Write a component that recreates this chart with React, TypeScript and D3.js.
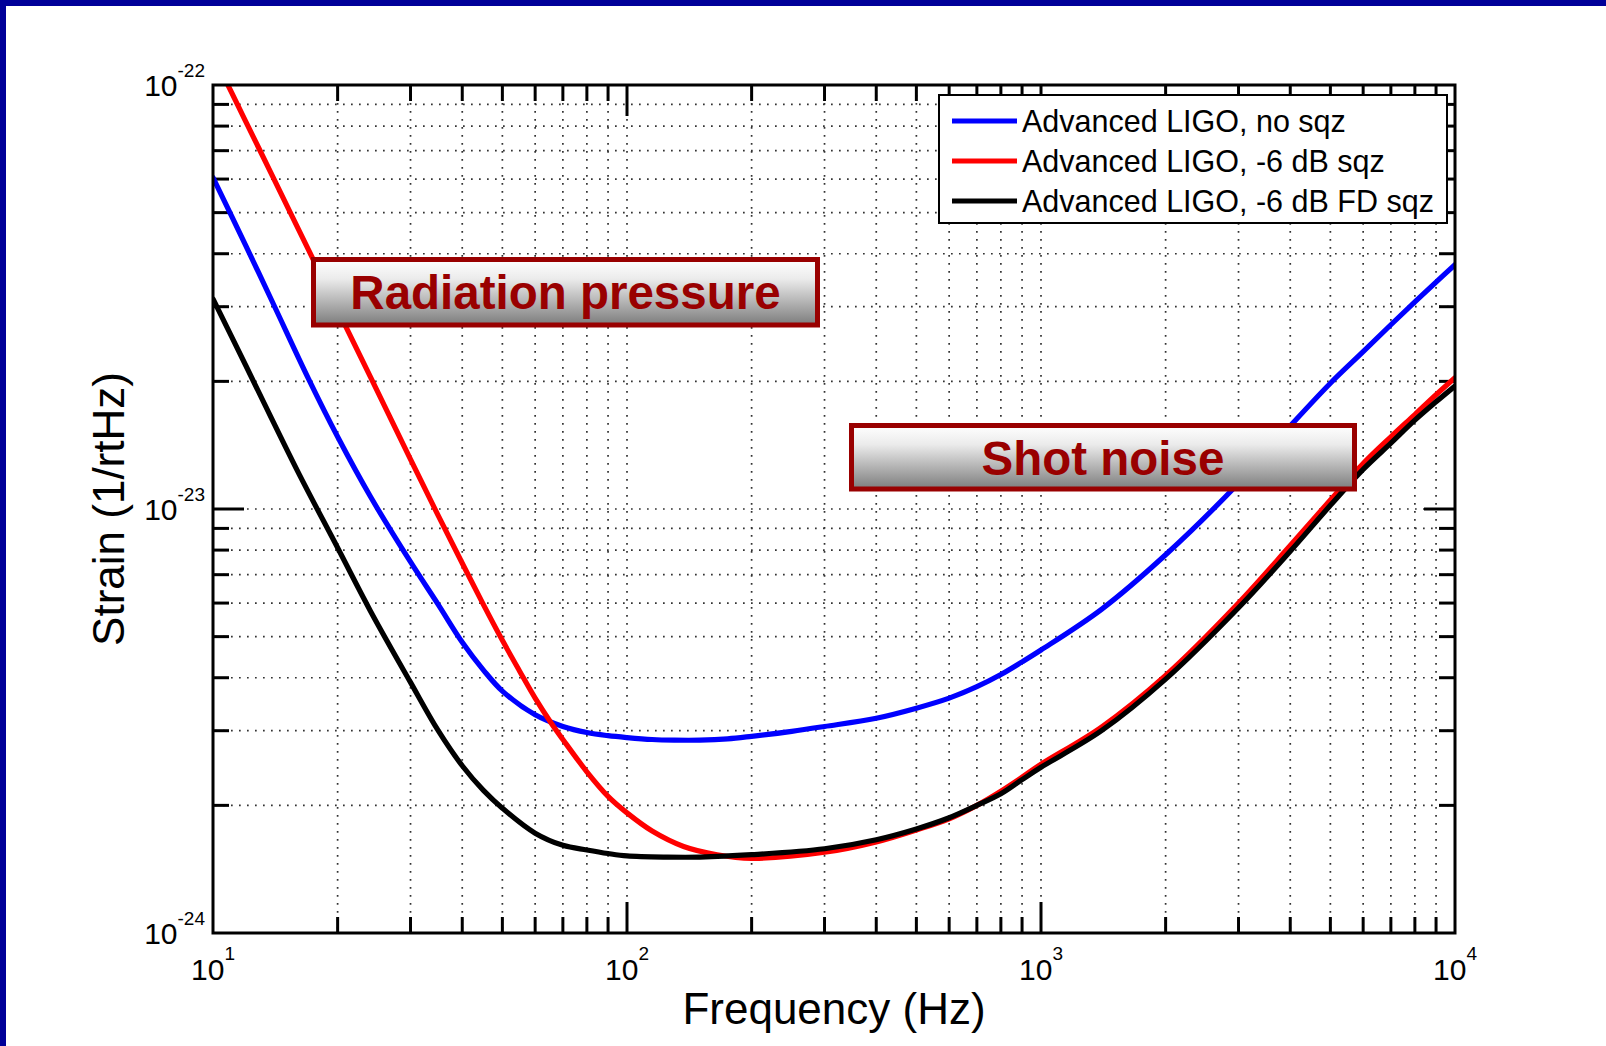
import React from "react";
import * as d3 from "d3";

const W = 1606;
const H = 1046;

// ---- data (strain in 1/rtHz vs frequency in Hz) ----
const blueFreq = [10, 12, 14, 17, 20, 24, 30, 35, 40, 45, 50, 60, 70, 80, 90, 100, 115, 130, 150, 175, 200, 250, 300, 400, 500, 600, 700, 800, 900, 1000, 1400, 2000, 3000, 4000, 5000, 6000, 7000, 8000, 9000, 10000];
const blueVals = [6.05e-23, 4.18e-23, 3.04e-23, 2.03e-23, 1.48e-23, 1.07e-23, 7.5e-24, 5.95e-24, 4.85e-24, 4.17e-24, 3.72e-24, 3.27e-24, 3.07e-24, 2.97e-24, 2.92e-24, 2.89e-24, 2.86e-24, 2.85e-24, 2.85e-24, 2.87e-24, 2.91e-24, 2.99e-24, 3.07e-24, 3.21e-24, 3.39e-24, 3.58e-24, 3.81e-24, 4.07e-24, 4.36e-24, 4.65e-24, 5.8e-24, 7.8e-24, 1.15e-23, 1.57e-23, 1.98e-23, 2.35e-23, 2.72e-23, 3.08e-23, 3.43e-23, 3.77e-23];

const redFreq = [10, 12, 14, 17, 20, 24, 30, 35, 40, 45, 50, 55, 60, 65.7, 70, 80, 90, 100, 115, 137, 165, 200, 300, 400, 500, 600, 700, 800, 900, 1000, 1400, 2000, 3000, 4000, 5000, 6000, 7000, 8000, 9000, 10000];
const redVals = [1.18e-22, 8.2e-23, 6.03e-23, 4.09e-23, 2.95e-23, 2.05e-23, 1.31e-23, 9.65e-24, 7.45e-24, 5.95e-24, 4.9e-24, 4.15e-24, 3.58e-24, 3.12e-24, 2.86e-24, 2.4e-24, 2.1e-24, 1.92e-24, 1.74e-24, 1.6e-24, 1.53e-24, 1.5e-24, 1.55e-24, 1.64e-24, 1.75e-24, 1.86e-24, 2.0e-24, 2.16e-24, 2.33e-24, 2.5e-24, 3.06e-24, 4.05e-24, 6.0e-24, 8.2e-24, 1.05e-23, 1.28e-23, 1.48e-23, 1.67e-23, 1.86e-23, 2.04e-23];

const blackFreq = [10, 12, 14, 16.2, 20, 24, 30, 35, 40, 45, 50, 60, 70, 80, 90, 100, 125, 150, 200, 300, 400, 500, 600, 700, 800, 900, 1000, 1400, 2000, 3000, 4000, 5000, 6000, 7000, 8000, 9000, 10000];
const blackVals = [3.13e-23, 2.18e-23, 1.6e-23, 1.2e-23, 8.1e-24, 5.75e-24, 3.9e-24, 3.0e-24, 2.48e-24, 2.17e-24, 1.97e-24, 1.72e-24, 1.61e-24, 1.57e-24, 1.54e-24, 1.52e-24, 1.51e-24, 1.51e-24, 1.53e-24, 1.58e-24, 1.66e-24, 1.76e-24, 1.87e-24, 2.0e-24, 2.13e-24, 2.3e-24, 2.46e-24, 3.0e-24, 3.97e-24, 5.85e-24, 7.95e-24, 1.02e-23, 1.24e-23, 1.43e-23, 1.62e-23, 1.79e-23, 1.95e-23];

const seriesNames = ["Advanced LIGO, no sqz", "Advanced LIGO, -6 dB sqz", "Advanced LIGO, -6 dB FD sqz"];
const seriesColors = ["#0000ff", "#ff0000", "#000000"];

const xMajor = [10, 100, 1000, 10000];
const xMajorExp = ["1", "2", "3", "4"];
const yMajor = [1e-24, 1e-23, 1e-22];
const yMajorExp = ["-24", "-23", "-22"];

const xLabel = "Frequency (Hz)";
const yLabel = "Strain (1/rtHz)";
const annotations = ["Radiation pressure", "Shot noise"];

const FONT = "'Liberation Sans', Arial, Helvetica, sans-serif";

export default function App() {
  const L = 213, R = 1455, T = 85, B = 933;
  const x = d3.scaleLog().domain([10, 10000]).range([L, R]);
  const y = d3.scaleLog().domain([1e-24, 1e-22]).range([B, T]);

  const xMinor: number[] = [];
  [10, 100, 1000].forEach((d) => { for (let k = 2; k <= 9; k++) xMinor.push(d * k); });
  const yMinor: number[] = [];
  [1e-24, 1e-23].forEach((d) => { for (let k = 2; k <= 9; k++) yMinor.push(d * k); });

  const line = d3
    .line<[number, number]>()
    .x((d) => x(d[0]))
    .y((d) => y(d[1]))
    .curve(d3.curveCatmullRom.alpha(0.5));

  const series = [
    blueFreq.map((f, i) => [f, blueVals[i]] as [number, number]),
    redFreq.map((f, i) => [f, redVals[i]] as [number, number]),
    blackFreq.map((f, i) => [f, blackVals[i]] as [number, number]),
  ];

  const gridV = [...xMinor, 100, 1000];
  const gridH = [...yMinor, 1e-23];
  const minorLen = 16, majorLen = 31;
  const tickStroke = 3;

  const legX = 939, legY = 95, legW = 508, legH = 128;
  const legRows = [121, 161, 201];

  const boxes = [
    { x: 313.5, y: 259.5, w: 504, h: 65.5, text: annotations[0], fs: 47.5 },
    { x: 851.5, y: 425.5, w: 503, h: 63.5, text: annotations[1], fs: 47.5 },
  ];

  return (
    <svg
      width={W}
      height={H}
      viewBox={`0 0 ${W} ${H}`}
      style={{ position: "absolute", left: 0, top: 0, background: "#ffffff" }}
      fontFamily={FONT}
    >
      <defs>
        <clipPath id="plotClip">
          <rect x={L} y={T} width={R - L} height={B - T} />
        </clipPath>
        <linearGradient id="boxGrad" x1="0" y1="0" x2="0" y2="1">
          <stop offset="0" stopColor="#ffffff" />
          <stop offset="0.3" stopColor="#ebebeb" />
          <stop offset="1" stopColor="#7c7c7c" />
        </linearGradient>
      </defs>
      <rect x={0} y={0} width={W} height={H} fill="#ffffff" />
      {/* blue slide frame */}
      <rect x={0} y={0} width={W} height={6} fill="#000099" />
      <rect x={0} y={0} width={6} height={H} fill="#000099" />

      {/* grid */}
      <g stroke="#333" strokeWidth={1.7} strokeDasharray="1.7 6.3" fill="none">
        {gridV.map((v) => (
          <line key={"gv" + v} x1={x(v)} x2={x(v)} y1={T + 2} y2={B - 2} />
        ))}
        {gridH.map((v) => (
          <line key={"gh" + v} x1={L + 2} x2={R - 2} y1={y(v)} y2={y(v)} />
        ))}
      </g>

      {/* ticks */}
      <g stroke="#000" strokeWidth={tickStroke}>
        {xMinor.map((v) => (
          <g key={"xt" + v}>
            <line x1={x(v)} x2={x(v)} y1={B} y2={B - minorLen} />
            <line x1={x(v)} x2={x(v)} y1={T} y2={T + minorLen} />
          </g>
        ))}
        {[100, 1000].map((v) => (
          <g key={"xM" + v}>
            <line x1={x(v)} x2={x(v)} y1={B} y2={B - majorLen} />
            <line x1={x(v)} x2={x(v)} y1={T} y2={T + majorLen} />
          </g>
        ))}
        {yMinor.map((v) => (
          <g key={"yt" + v}>
            <line x1={L} x2={L + minorLen} y1={y(v)} y2={y(v)} />
            <line x1={R} x2={R - minorLen} y1={y(v)} y2={y(v)} />
          </g>
        ))}
        {[1e-23].map((v) => (
          <g key={"yM" + v}>
            <line x1={L} x2={L + majorLen} y1={y(v)} y2={y(v)} />
            <line x1={R} x2={R - majorLen} y1={y(v)} y2={y(v)} />
          </g>
        ))}
      </g>

      {/* curves */}
      <g clipPath="url(#plotClip)" fill="none" strokeWidth={5.2} strokeLinejoin="round" strokeLinecap="round">
        {series.map((s, i) => (
          <path key={"s" + i} d={line(s) || ""} stroke={seriesColors[i]} />
        ))}
      </g>

      {/* frame */}
      <rect x={L} y={T} width={R - L} height={B - T} fill="none" stroke="#000" strokeWidth={3} />

      {/* x tick labels */}
      {xMajor.map((v, i) => (
        <text key={"xl" + v} x={x(v)} y={980} textAnchor="middle" fontSize={30} fill="#000">
          <tspan>10</tspan>
          <tspan dy={-20} fontSize={19}>{xMajorExp[i]}</tspan>
        </text>
      ))}
      {/* y tick labels */}
      {yMajor.map((v, i) => (
        <text key={"yl" + v} x={205} y={y(v) + 11} textAnchor="end" fontSize={30} fill="#000">
          <tspan>10</tspan>
          <tspan dy={-19} fontSize={19}>{yMajorExp[i]}</tspan>
        </text>
      ))}

      {/* axis labels */}
      <text x={(L + R) / 2} y={1024} textAnchor="middle" fontSize={44} fill="#000">
        {xLabel}
      </text>
      <text transform={`translate(124, ${(T + B) / 2}) rotate(-90)`} textAnchor="middle" fontSize={44} fill="#000">
        {yLabel}
      </text>

      {/* legend */}
      <rect x={legX} y={legY} width={legW} height={legH} fill="#ffffff" stroke="#000" strokeWidth={2} />
      {seriesNames.map((name, i) => (
        <g key={"lg" + i}>
          <line x1={952} x2={1017} y1={legRows[i]} y2={legRows[i]} stroke={seriesColors[i]} strokeWidth={5} />
          <text x={1022} y={legRows[i] + 11} fontSize={30.5} fill="#000">
            {name}
          </text>
        </g>
      ))}

      {/* annotation boxes */}
      {boxes.map((b, i) => (
        <g key={"box" + i}>
          <rect x={b.x} y={b.y} width={b.w} height={b.h} fill="url(#boxGrad)" stroke="#990000" strokeWidth={5} />
          <text
            x={b.x + b.w / 2}
            y={b.y + 49.5}
            textAnchor="middle"
            fontSize={b.fs}
            fontWeight="bold"
            fill="#990000"
          >
            {b.text}
          </text>
        </g>
      ))}
    </svg>
  );
}
